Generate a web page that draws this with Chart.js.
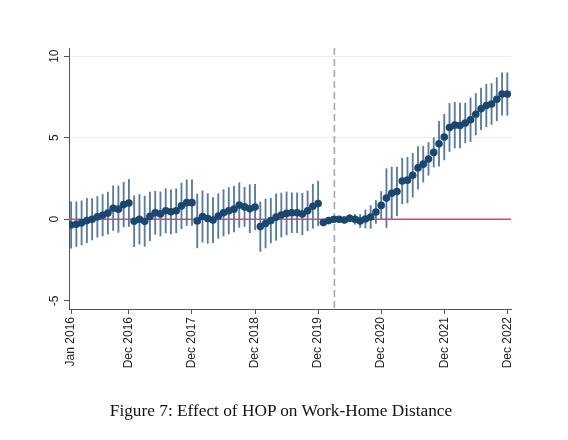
<!DOCTYPE html>
<html>
<head>
<meta charset="utf-8">
<script src="https://cdn.jsdelivr.net/npm/chart.js@4/dist/chart.umd.min.js"></script>
<style>
  html, body { margin: 0; padding: 0; background: #fff; }
  #wrap { position: relative; width: 568px; height: 440px; }
  #chartEvent { position: absolute; left: 0; top: 0; }
  #caption {
    position: absolute; left: 0; top: 401px; width: 562px;
    text-align: center; font-family: "Liberation Serif", serif;
    font-size: 17.3px; color: #111;
  }
</style>
</head>
<body>
<div id="wrap">
  <canvas id="chartEvent" width="568" height="440"></canvas>
  <div id="caption">Figure 7: Effect of HOP on Work-Home Distance</div>
</div>
<script>
// monthly estimates, Jan 2016 (0) .. Dec 2022 (83)
const estimates = [
  -0.35, -0.30, -0.22, -0.08, 0.00, 0.15, 0.25, 0.38, 0.68, 0.62, 0.90, 1.00,
  -0.12, 0.00, -0.12, 0.18, 0.40, 0.33, 0.52, 0.46, 0.52, 0.82, 1.02, 1.02,
  -0.10, 0.17, 0.05, -0.05, 0.20, 0.40, 0.52, 0.62, 0.87, 0.76, 0.65, 0.75,
  -0.45, -0.26, -0.08, 0.13, 0.26, 0.36, 0.40, 0.40, 0.32, 0.52, 0.80, 0.97,
  -0.20, -0.08, 0.00, 0.00, -0.04, 0.06, 0.00, -0.10, 0.02, 0.14, 0.45, 0.85,
  1.30, 1.60, 1.70, 2.35, 2.40, 2.70, 3.15, 3.38, 3.70, 4.10, 4.63, 5.04,
  5.63, 5.77, 5.75, 5.90, 6.10, 6.44, 6.77, 6.97, 7.07, 7.36, 7.68, 7.68
];
// half width of the confidence interval
const ciHalf = [
  1.42, 1.37, 1.35, 1.36, 1.27, 1.25, 1.27, 1.29, 1.37, 1.42, 1.37, 1.44,
  1.56, 1.52, 1.54, 1.49, 1.32, 1.35, 1.35, 1.35, 1.35, 1.40, 1.40, 1.40,
  1.65, 1.57, 1.52, 1.38, 1.37, 1.42, 1.42, 1.40, 1.37, 1.20, 1.47, 1.40,
  1.52, 1.50, 1.37, 1.42, 1.35, 1.32, 1.22, 1.22, 1.27, 1.22, 1.35, 1.37,
  0.20, 0.18, 0.15, 0.15, 0.18, 0.22, 0.30, 0.40, 0.55, 0.70, 0.70, 0.85,
  1.80, 1.60, 1.50, 1.40, 1.40, 1.35, 1.30, 1.10, 1.00, 0.90, 1.37, 1.40,
  1.47, 1.40, 1.37, 1.22, 1.34, 1.27, 1.27, 1.30, 1.25, 1.32, 1.30, 1.30
];
const tickMonths = [0, 11, 23, 35, 47, 59, 71, 83];
const tickLabels = ['Jan 2016', 'Dec 2016', 'Dec 2017', 'Dec 2018', 'Dec 2019', 'Dec 2020', 'Dec 2021', 'Dec 2022'];
const yTicks = [-5, 0, 5, 10];
const eventMonth = 50.1;

const axisFont = '12px "Liberation Sans", Arial, sans-serif';

const refLines = {
  id: 'refLines',
  beforeDatasetsDraw(chart) {
    const { ctx, chartArea, scales } = chart;
    ctx.save();
    // zero line
    const y0 = scales.y.getPixelForValue(0);
    ctx.strokeStyle = '#c9506d';
    ctx.lineWidth = 1.6;
    ctx.beginPath();
    ctx.moveTo(chartArea.left, y0);
    ctx.lineTo(chartArea.right, y0);
    ctx.stroke();
    // event line
    const xe = scales.x.getPixelForValue(eventMonth);
    ctx.strokeStyle = '#a8a8a8';
    ctx.lineWidth = 1.6;
    ctx.setLineDash([7, 4]);
    ctx.beginPath();
    ctx.moveTo(xe, chartArea.top);
    ctx.lineTo(xe, chartArea.bottom);
    ctx.stroke();
    ctx.restore();
  }
};

// rotated tick labels for both axes, placed with the scales
const axisLabels = {
  id: 'axisLabels',
  afterDraw(chart) {
    const { ctx, scales, chartArea } = chart;
    ctx.save();
    ctx.fillStyle = '#222';
    ctx.font = axisFont;
    ctx.textBaseline = 'middle';
    yTicks.forEach(v => {
      ctx.save();
      ctx.translate(55, scales.y.getPixelForValue(v));
      ctx.rotate(-Math.PI / 2);
      ctx.textAlign = 'center';
      ctx.fillText(String(v), 0, 0);
      ctx.restore();
    });
    tickMonths.forEach((m, i) => {
      ctx.save();
      ctx.translate(scales.x.getPixelForValue(m), chartArea.bottom + 8);
      ctx.rotate(-Math.PI / 2);
      ctx.textAlign = 'right';
      ctx.fillText(tickLabels[i], 0, 0);
      ctx.restore();
    });
    ctx.restore();
  }
};

new Chart(document.getElementById('chartEvent'), {
  type: 'bar',
  data: {
    datasets: [
      {
        type: 'scatter',
        data: estimates.map((v, i) => ({ x: i, y: v })),
        backgroundColor: '#1a476f',
        borderWidth: 0,
        pointRadius: 3.8,
        order: 1
      },
      {
        type: 'bar',
        data: estimates.map((v, i) => ({ x: i, y: [v - ciHalf[i], v + ciHalf[i]] })),
        backgroundColor: '#5a7b9b',
        barThickness: 1.2,
        order: 2
      }
    ]
  },
  options: {
    responsive: false,
    animation: false,
    layout: { padding: { top: 48, right: 57, left: 0, bottom: 0 } },
    plugins: { legend: { display: false }, tooltip: { enabled: false } },
    scales: {
      x: {
        type: 'linear',
        offset: false,
        min: -0.4,
        max: 83.7,
        afterBuildTicks: s => { s.ticks = tickMonths.map(v => ({ value: v })); },
        afterFit: s => { s.height = 131; },
        grid: { offset: false, drawOnChartArea: false, tickLength: 5, tickColor: '#555' },
        border: { color: '#555', width: 1 },
        ticks: { display: false }
      },
      y: {
        type: 'linear',
        min: -5.5,
        max: 10.5,
        afterBuildTicks: s => { s.ticks = yTicks.map(v => ({ value: v })); },
        afterFit: s => { s.width = 69; },
        grid: {
          color: c => (c.tick && c.tick.value > 0) ? '#ececec' : 'rgba(0,0,0,0)',
          tickLength: 5,
          tickColor: '#555'
        },
        border: { color: '#555', width: 1 },
        ticks: { display: false }
      }
    }
  },
  plugins: [refLines, axisLabels]
});
</script>
</body>
</html>
